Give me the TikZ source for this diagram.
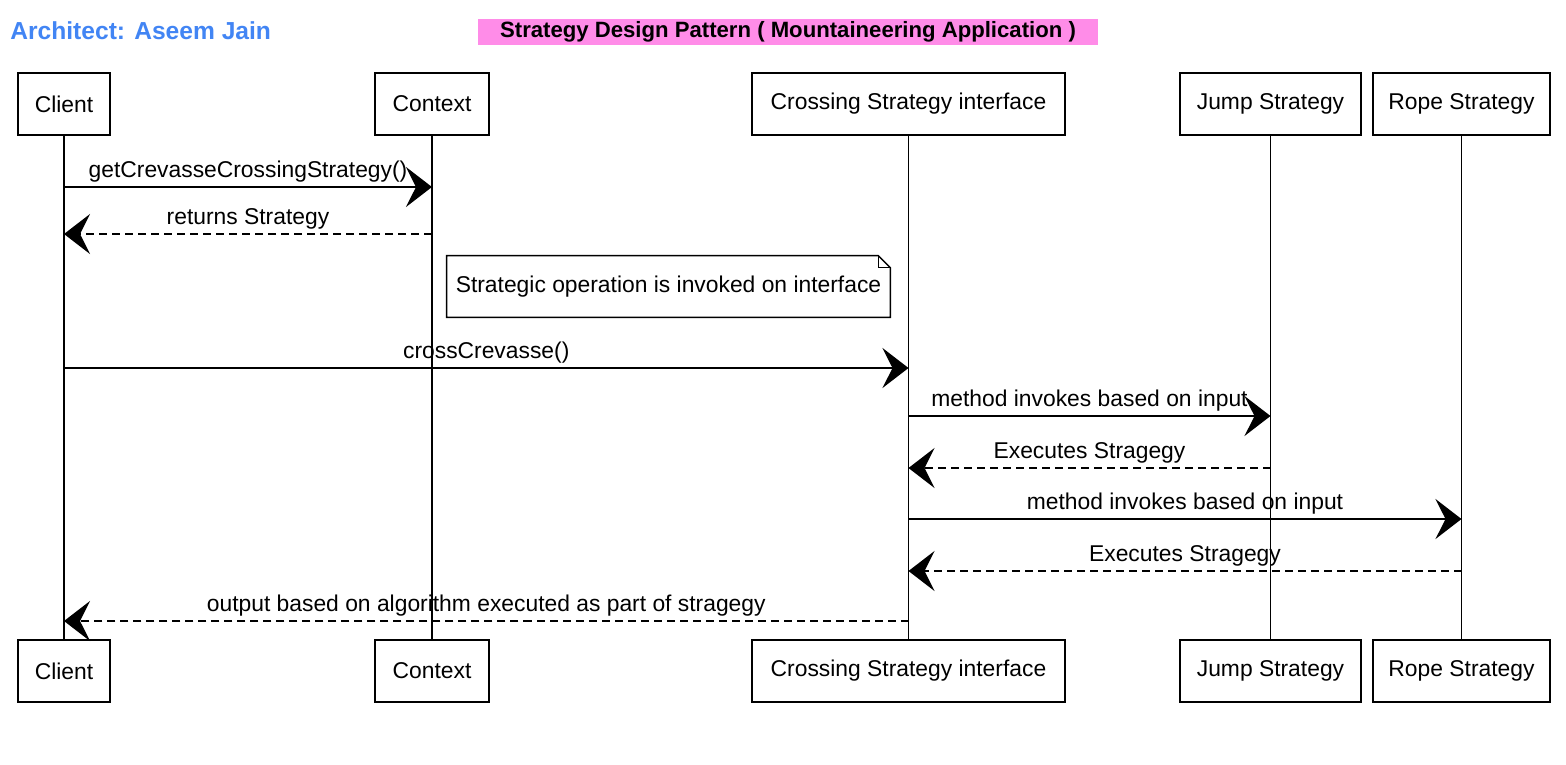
\documentclass[tikz,border=0pt]{standalone}
\usepackage{fontspec}
\setmainfont{Liberation Sans}
\usetikzlibrary{arrows.meta}
\definecolor{archblue}{RGB}{66,133,244}
\definecolor{bannerpink}{RGB}{255,140,232}
\tikzset{
  actor/.style={draw, line width=1.1pt, minimum height=12.4mm, inner sep=0pt, font=\fontsize{13}{15}\selectfont},
  msg/.style={line width=0.9pt, -{Stealth[length=5.2mm,width=8mm,inset=2mm]}},
  reply/.style={msg, dash pattern=on 1.6mm off 1mm},
  lbl/.style={font=\fontsize{13}{15}\selectfont, above, inner sep=2pt}
}
\begin{document}
\begin{tikzpicture}[x=0.2mm,y=-0.2mm]
  \useasboundingbox (0,0) rectangle (1566,764);
  \node[anchor=west, inner sep=0pt, text=archblue, font=\bfseries\fontsize{14}{16}\selectfont] (arch) at (10,31) {Architect: Aseem Jain};
  \node[fill=bannerpink, minimum width=124mm, minimum height=5.2mm, inner sep=0pt, font=\bfseries\fontsize{12.6}{14}\selectfont] (title) at (788,32) {Strategy Design Pattern ( Mountaineering Application )};
  \foreach \nm/\x/\w/\txt in {cl/64/18.4/Client, ctx/432/22.8/Context, cs/908.5/62.6/Crossing Strategy interface, js/1270.5/36.2/Jump Strategy, rs/1461.5/35.4/Rope Strategy}{
    \node[actor, minimum width=\w mm] (\nm-top) at (\x,104) {\txt};
    \node[actor, minimum width=\w mm] (\nm-bot) at (\x,671) {\txt};
    \draw[line width=0.6pt] (\nm-top) -- (\nm-bot);
  }
  \node[font=\fontsize{13}{15}\selectfont, minimum width=88.6mm, minimum height=12.2mm] (note) at (668.5,286.5) {Strategic operation is invoked on interface};
  \draw[line width=0.8pt] (note.north west) -- ([xshift=-2.4mm]note.north east) -- ([yshift=-2.4mm]note.north east) -- (note.south east) -- (note.south west) -- cycle;
  \draw[line width=0.6pt] ([xshift=-2.4mm]note.north east) |- ([yshift=-2.4mm]note.north east);
  \foreach \i/\a/\b/\y/\sty/\txt in {1/cl/ctx/187/msg/getCrevasseCrossingStrategy(), 2/ctx/cl/234/reply/returns Strategy, 3/cl/cs/368/msg/crossCrevasse(), 4/cs/js/416/msg/method invokes based on input, 5/js/cs/468/reply/Executes Stragegy, 6/cs/rs/519/msg/method invokes based on input, 7/rs/cs/571/reply/Executes Stragegy, 8/cs/cl/621/reply/output based on algorithm executed as part of stragegy}{
    \coordinate (m\i-a) at (\a-top |- 0,\y);
    \coordinate (m\i-b) at (\b-top |- 0,\y);
    \draw[\sty] (m\i-a) -- node[lbl] {\txt} (m\i-b);
  }
\end{tikzpicture}
\end{document}
